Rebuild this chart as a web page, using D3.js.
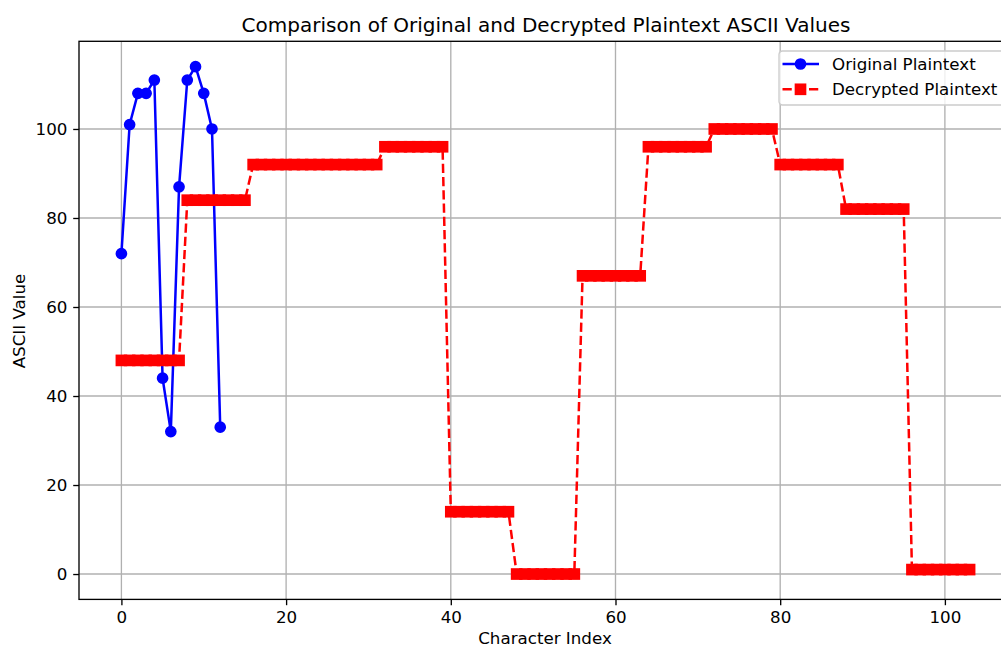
<!DOCTYPE html>
<html><head><meta charset="utf-8">
<script src="https://cdn.jsdelivr.net/npm/d3@7"></script>
<style>body{margin:0;background:#fff}svg{display:block;font-family:"DejaVu Sans",sans-serif}</style>
</head><body>
<script>
const titleText = "Comparison of Original and Decrypted Plaintext ASCII Values";
const xLabel = "Character Index";
const yLabel = "ASCII Value";
const seriesNames = ["Original Plaintext", "Decrypted Plaintext"];
const originalValues = [72, 101, 108, 108, 111, 44, 32, 87, 111, 114, 108, 100, 33];
const decryptedValues = [
  48,48,48,48,48,48,48,48,
  84,84,84,84,84,84,84,84,
  92,92,92,92,92,92,92,92,
  92,92,92,92,92,92,92,92,
  96,96,96,96,96,96,96,96,
  14,14,14,14,14,14,14,14,
  0,0,0,0,0,0,0,0,
  67,67,67,67,67,67,67,67,
  96,96,96,96,96,96,96,96,
  100,100,100,100,100,100,100,100,
  92,92,92,92,92,92,92,92,
  82,82,82,82,82,82,82,82,
  1,1,1,1,1,1,1,1
];
const xTicks = [0, 20, 40, 60, 80, 100];
const yTicks = [0, 20, 40, 60, 80, 100];

(function () {
const W = 1001, H = 649;
const svg = d3.select("body").append("svg").attr("width", W).attr("height", H);

const n = decryptedValues.length - 1;
const xPad = n * 0.05;
const yMax = d3.max([...originalValues, ...decryptedValues]);
const yPad = yMax * 0.05;
const pL = 79, pT = 41.3, pB = 599.4, pR = 1012;
const x = d3.scaleLinear().domain([-xPad, n + xPad]).range([pL, pR]);
const y = d3.scaleLinear().domain([-yPad, yMax + yPad]).range([pB, pT]);

const LW = 2.5, MS = 10, ME = 1.67, DASH = "9.25,4", GW = 1.33, FS = 16.7;

// grid
const g = svg.append("g");
g.selectAll(".gx").data(xTicks).enter().append("line")
  .attr("x1", d => x(d)).attr("x2", d => x(d)).attr("y1", pT).attr("y2", pB)
  .attr("stroke", "#b0b0b0").attr("stroke-width", GW);
g.selectAll(".gy").data(yTicks).enter().append("line")
  .attr("x1", pL).attr("x2", pR).attr("y1", d => y(d)).attr("y2", d => y(d))
  .attr("stroke", "#b0b0b0").attr("stroke-width", GW);

// original series
const line = d3.line().x((d, i) => x(i)).y(d => y(d));
svg.append("path").datum(originalValues).attr("d", line)
  .attr("fill", "none").attr("stroke", "#0000ff").attr("stroke-width", LW).attr("stroke-linejoin", "round");
svg.selectAll(".dot").data(originalValues).enter().append("circle")
  .attr("cx", (d, i) => x(i)).attr("cy", d => y(d)).attr("r", MS / 2)
  .attr("fill", "#0000ff").attr("stroke", "#0000ff").attr("stroke-width", ME);

// decrypted series
svg.append("path").datum(decryptedValues).attr("d", line)
  .attr("fill", "none").attr("stroke", "#ff0000").attr("stroke-width", LW)
  .attr("stroke-dasharray", DASH);
svg.selectAll(".sq").data(decryptedValues).enter().append("rect")
  .attr("x", (d, i) => x(i) - MS / 2).attr("y", d => y(d) - MS / 2)
  .attr("width", MS).attr("height", MS)
  .attr("fill", "#ff0000").attr("stroke", "#ff0000").attr("stroke-width", ME);

// axes
svg.append("g").attr("transform", `translate(0,${pB})`)
  .call(d3.axisBottom(x).tickValues(xTicks).tickFormat(d3.format("d")).tickSize(5.8).tickPadding(5.8))
  .call(a => a.select(".domain").remove())
  .call(a => a.selectAll("line").attr("stroke", "#000").attr("stroke-width", GW))
  .call(a => a.selectAll("text").attr("font-size", FS).attr("fill", "#000").attr("font-family", "DejaVu Sans"));
svg.append("g").attr("transform", `translate(${pL},0)`)
  .call(d3.axisLeft(y).tickValues(yTicks).tickFormat(d3.format("d")).tickSize(5.8).tickPadding(5.8))
  .call(a => a.select(".domain").remove())
  .call(a => a.selectAll("line").attr("stroke", "#000").attr("stroke-width", GW))
  .call(a => a.selectAll("text").attr("font-size", FS).attr("fill", "#000").attr("font-family", "DejaVu Sans"));

// spines
svg.append("rect").attr("x", pL).attr("y", pT).attr("width", pR - pL).attr("height", pB - pT)
  .attr("fill", "none").attr("stroke", "#000").attr("stroke-width", GW);

// labels
svg.append("text").attr("x", 546).attr("y", 32).attr("text-anchor", "middle")
  .attr("font-size", 20).attr("fill", "#000").text(titleText);
svg.append("text").attr("x", 545).attr("y", 644).attr("text-anchor", "middle")
  .attr("font-size", FS).attr("fill", "#000").text(xLabel);
svg.append("text").attr("transform", "translate(24.5,321) rotate(-90)").attr("text-anchor", "middle")
  .attr("font-size", FS).attr("fill", "#000").text(yLabel);

// legend
const lg = svg.append("g").attr("transform", "translate(779,51)");
lg.append("rect").attr("x", 0).attr("y", 0).attr("width", 260).attr("height", 54).attr("rx", 3.5)
  .attr("fill", "#fff").attr("fill-opacity", 0.8).attr("stroke", "#cccccc").attr("stroke-width", GW);
const rows = [
  {name: seriesNames[0], color: "#0000ff", dash: null, shape: "circle", yy: 13},
  {name: seriesNames[1], color: "#ff0000", dash: DASH, shape: "square", yy: 38.3}
];
rows.forEach(r => {
  lg.append("line").attr("x1", 3.5).attr("x2", 40).attr("y1", r.yy).attr("y2", r.yy)
    .attr("stroke", r.color).attr("stroke-width", LW).attr("stroke-dasharray", r.dash);
  if (r.shape === "circle") {
    lg.append("circle").attr("cx", 21.5).attr("cy", r.yy).attr("r", MS / 2)
      .attr("fill", r.color).attr("stroke", r.color).attr("stroke-width", ME);
  } else {
    lg.append("rect").attr("x", 21.5 - MS / 2).attr("y", r.yy - MS / 2).attr("width", MS).attr("height", MS)
      .attr("fill", r.color).attr("stroke", r.color).attr("stroke-width", ME);
  }
  lg.append("text").attr("x", 53).attr("y", r.yy + 6).attr("font-size", FS).attr("fill", "#000").text(r.name);
});
})();
</script>
</body></html>
